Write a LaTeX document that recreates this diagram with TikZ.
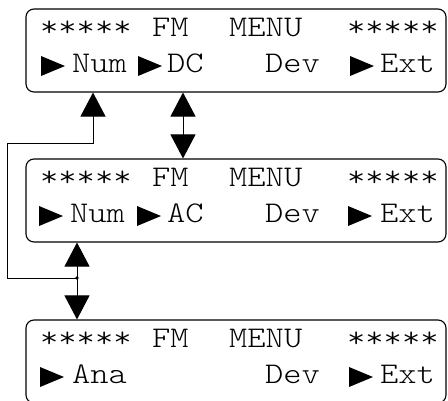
\documentclass[tikz,border=0pt]{standalone}
\usepackage{fontspec}
\newfontfamily\lcd[FakeStretch=1.16]{lmmonolt10-regular.otf}
\usetikzlibrary{arrows.meta,calc}
\newcommand\lcdhead[2]{%
  \node[txt] (#1s1) at (40,#2+27) {*****};
  \node[txt] (#1fm) at (152,#2+27) {FM};
  \node[txt] (#1mn) at (229,#2+27) {MENU};
  \node[txt] (#1s2) at (347,#2+27) {*****};
}
\newcommand\lcdtri[2]{\fill (#1,#2+47) -- (#1+24,#2+57) -- (#1,#2+67) -- cycle;}
\begin{document}
\begin{tikzpicture}[x=1pt,y=-1pt,
  lcdbox/.style={draw, rounded corners=8pt, line width=1.1pt, minimum width=420pt, minimum height=83pt, inner sep=0pt},
  txt/.style={anchor=base west, inner sep=0pt, font=\lcd\fontsize{30}{30}\selectfont},
  conn/.style={line width=1pt},
  head/.style={-{Triangle[width=25pt,length=24pt]}},
  dhead/.style={{Triangle[width=25pt,length=24pt]}-{Triangle[width=25pt,length=24pt]}}]
\useasboundingbox (0,0) rectangle (448,400);
% boxes
\node[lcdbox] (box1) at (236,50.5) {};
\node[lcdbox] (box2) at (236,200.5) {};
\node[lcdbox] (box3) at (236,361.5) {};
% box 1
\lcdhead{a}{9}
\lcdtri{41}{9}
\node[txt] (anum) at (72,72) {Num};
\lcdtri{138}{9}
\node[txt] (adc) at (167,72) {DC};
\node[txt] (adev) at (265,72) {Dev};
\lcdtri{350}{9}
\node[txt] (aext) at (380,72) {Ext};
% box 2
\lcdhead{b}{159}
\lcdtri{39}{159}
\node[txt] (bnum) at (70,222) {Num};
\lcdtri{137}{159}
\node[txt] (bac) at (167,222) {AC};
\node[txt] (bdev) at (265,222) {Dev};
\lcdtri{348}{159}
\node[txt] (bext) at (380,222) {Ext};
% box 3
\lcdhead{c}{320}
\lcdtri{40}{320}
\node[txt] (cana) at (72,383) {Ana};
\node[txt] (cdev) at (265,383) {Dev};
\lcdtri{349}{320}
\node[txt] (cext) at (380,383) {Ext};
% connectors
\coordinate (ja) at (77,278);
\coordinate (lft) at (7,143);
\coordinate (xnum) at (93,143);
\coordinate (xdc) at (183,0);
\draw[conn,head] (ja) -- (lft |- ja) |- (xnum) -- (xnum |- box1.south);
\draw[conn,dhead] (xdc |- box1.south) -- (xdc |- box2.north);
\draw[conn,dhead] (ja |- box2.south) -- (ja |- box3.north);
\fill (ja) circle (1.8pt);
\end{tikzpicture}
\end{document}
